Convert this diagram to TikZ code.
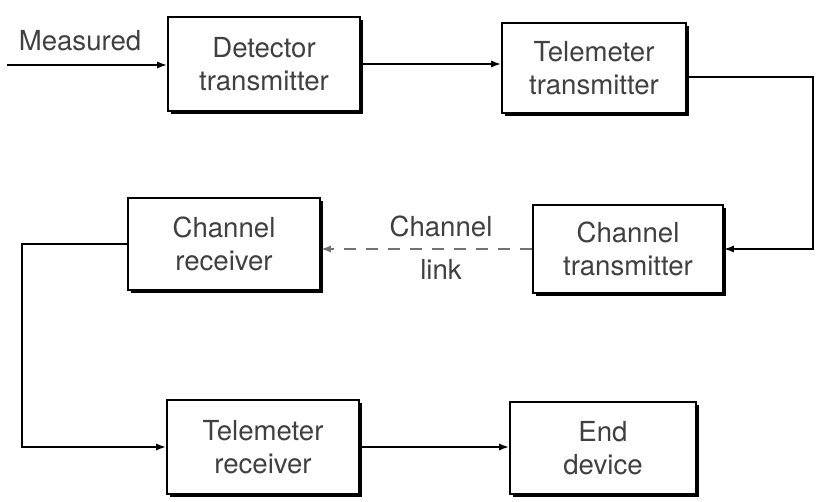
\documentclass[tikz,border=0pt]{standalone}
\usepackage{fontspec}
\setmainfont{TeX Gyre Heros}
\usetikzlibrary{arrows.meta,shadows}
\begin{document}
\begin{tikzpicture}[x=0.5pt,y=-0.5pt,
  blk/.style={draw=black, line width=0.9pt, fill=white, inner sep=0pt,
    align=center, text=black!75,
    font=\fontsize{13.8pt}{16.5pt}\selectfont,
    drop shadow={shadow xshift=1.4pt, shadow yshift=-1.4pt, fill=black, opacity=1}},
  arr/.style={line width=0.9pt, -{Latex[length=5pt,width=3.6pt]}},
  lbl/.style={text=black!75, font=\fontsize{13.8pt}{16.5pt}\selectfont, inner sep=0pt}]
\useasboundingbox (0,0) rectangle (819,502);
\node[blk, minimum width=96pt, minimum height=47pt] (det) at (264,64) {Detector\\transmitter};
\node[blk, minimum width=92pt, minimum height=45pt] (tt) at (594,68) {Telemeter\\transmitter};
\node[blk, minimum width=95pt, minimum height=44pt] (ct) at (628,249) {Channel\\transmitter};
\node[blk, minimum width=96pt, minimum height=46pt] (cr) at (224,244) {Channel\\receiver};
\node[blk, minimum width=96pt, minimum height=47pt] (tr) at (263,447) {Telemeter\\receiver};
\node[blk, minimum width=93pt, minimum height=46pt] (ed) at (603,448) {End\\device};
\coordinate (in) at (7,65);
\coordinate (c1) at (813,77);
\coordinate (c2) at (22,247);
\node[lbl, anchor=base] (meas) at (80,51) {Measured};
\node[lbl, anchor=base] (chl) at (441,237) {Channel};
\node[lbl, anchor=base] (lnk) at (441,279) {link};
\draw[arr] (in) -- (in -| det.west);
\draw[arr] (det.east) -- (det.east -| tt.west);
\draw[arr] (tt.east |- c1) -- (c1) |- (ct.east);
\draw[arr, dashed, draw=black!55, dash pattern=on 6pt off 5pt] (ct.west) -- (ct.west -| cr.east);
\draw[arr] (cr.west) -- (cr.west -| c2) |- (tr.west);
\draw[arr] (tr.east) -- (tr.east -| ed.west);
\end{tikzpicture}
\end{document}
